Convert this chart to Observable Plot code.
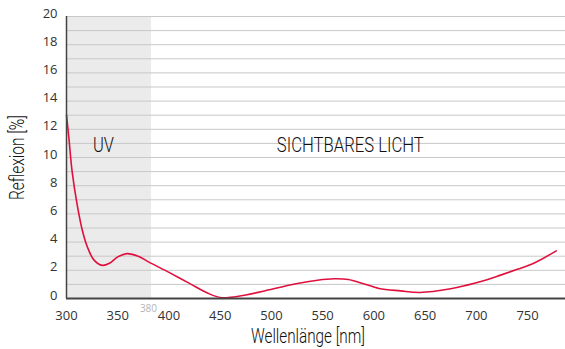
<!DOCTYPE html>
<html>
<head>
<meta charset="utf-8">
<script src="https://cdn.jsdelivr.net/npm/d3@7"></script>
<script src="https://cdn.jsdelivr.net/npm/@observablehq/plot@0.6"></script>
<style>
  html, body { margin: 0; padding: 0; background: #fff; }
  #chart svg { display: block; }
</style>
</head>
<body>
<div id="chart"></div>
<script>
// Wavelength (nm) and reflection (%)
const wavelength = [300, 302.3, 305.5, 310.4, 315.3, 320.2, 326.7, 335, 342, 350, 359, 370, 380, 400, 420, 440, 452, 460, 475, 492, 524, 545, 561, 575, 589, 605, 626, 645, 675, 691, 707, 723, 740, 756, 778];
const reflexion  = [13.0, 11.4, 9.0, 6.66, 4.88, 3.69, 2.74, 2.35, 2.5, 2.95, 3.18, 3.0, 2.6, 1.85, 1.07, 0.31, 0.05, 0.08, 0.25, 0.52, 1.05, 1.3, 1.4, 1.35, 1.07, 0.71, 0.54, 0.43, 0.69, 0.95, 1.26, 1.64, 2.07, 2.5, 3.38];

const xTicks = [300, 350, 400, 450, 500, 550, 600, 650, 700, 750];
const yTicks = [0, 2, 4, 6, 8, 10, 12, 14, 16, 18, 20];
const gridValues = d3.range(1, 21);
const uvBand = [{from: 300, to: 383}];
const regionLabels = [
  {x: 336, y: 10.88, text: "UV"},
  {x: 577, y: 10.88, text: "SICHTBARES LICHT"}
];
const xTitle = "Wellenlänge [nm]";
const yTitle = "Reflexion [%]";
const uvLimitLabel = "380";

const data = wavelength.map((w, i) => ({w, r: reflexion[i]}));

const condensed = "Roboto, 'DejaVu Sans Condensed', sans-serif";

const chart = Plot.plot({
  width: 565,
  height: 349,
  marginLeft: 66,
  marginRight: 0,
  marginTop: 16,
  marginBottom: 51,
  style: {fontFamily: "'Open Sans', sans-serif", color: "#333", background: "#fff"},
  x: {domain: [300, 787]},
  y: {domain: [0, 20]},
  marks: [
    Plot.rect(uvBand, {x1: "from", x2: "to", y1: 0, y2: 20, fill: "#ebebeb"}),
    Plot.ruleY(gridValues, {stroke: "#c8c8c8", strokeWidth: 1}),
    Plot.axisY({ticks: yTicks, tickSize: 0, tickPadding: 9, fontSize: 13, dy: -3, label: null, fill: "#333"}),
    Plot.axisX({ticks: xTicks, tickSize: 0, tickPadding: 12, fontSize: 13, label: null, fill: "#333"}),
    Plot.text([uvLimitLabel], {x: 380, y: 0, dy: 10, fontSize: 10, fill: "#b5b5b5"}),
    Plot.text(regionLabels, {x: "x", y: "y", text: "text", fontSize: 21, fontWeight: 300, fill: "#111", fontFamily: condensed}),
    Plot.line(data, {x: "w", y: "r", stroke: "#e0103c", strokeWidth: 1.6, curve: "catmull-rom"}),
    Plot.ruleX([300], {stroke: "#444", strokeWidth: 1.5}),
    Plot.ruleY([0], {stroke: "#444", strokeWidth: 2}),
    Plot.text([xTitle], {frameAnchor: "bottom", lineAnchor: "middle", dy: 38, dx: -8, fontSize: 20, fontWeight: 300, fill: "#111", fontFamily: condensed}),
    Plot.text([yTitle], {frameAnchor: "left", textAnchor: "middle", lineAnchor: "middle", dx: -49, rotate: -90, fontSize: 20, fontWeight: 300, fill: "#111", fontFamily: condensed})
  ]
});

// Narrow the condensed labels to the widths seen in the reference
const targetWidths = {"UV": 21, "SICHTBARES LICHT": 147, [xTitle]: 114, [yTitle]: 85};
d3.select(chart).selectAll("text").each(function() {
  const t = this.textContent;
  if (t in targetWidths) {
    this.setAttribute("textLength", targetWidths[t]);
    this.setAttribute("lengthAdjust", "spacingAndGlyphs");
  }
});
document.getElementById("chart").appendChild(chart);
</script>
</body>
</html>
